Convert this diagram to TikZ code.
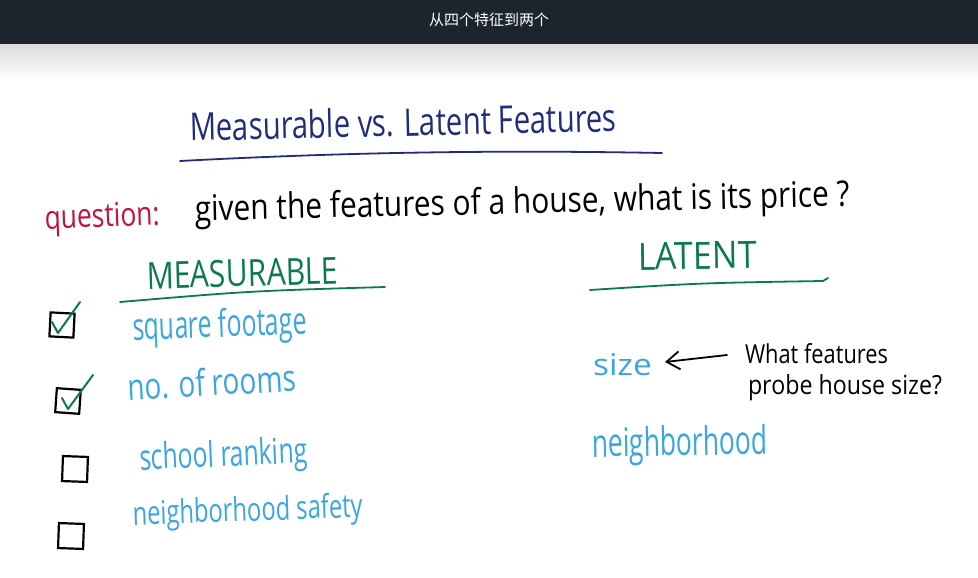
\documentclass[tikz,border=0pt]{standalone}
\usepackage{fontspec}
\setmainfont{Open Sans}
\newfontfamily\cjk{Noto Sans CJK SC}
\usetikzlibrary{arrows.meta}
\definecolor{barbg}{HTML}{1C252E}
\definecolor{navy}{HTML}{1F2D7B}
\definecolor{crim}{HTML}{C4123A}
\definecolor{grn}{HTML}{0B7A50}
\definecolor{blu}{HTML}{3AA5E0}
\newcommand\hw[3]{\resizebox{#1pt}{#2pt}{#3}}
\begin{document}
\begin{tikzpicture}[x=1pt,y=-1pt,
  hand/.style={anchor=base west,inner sep=0pt,outer sep=0pt},
  feat/.style={hand,text=blu},
  box/.style={draw=black,line width=2.2pt,minimum width=#1,minimum height=#1,inner sep=0pt},
  tick/.style={draw=grn,line width=2pt,line cap=round,line join=round},
  uline/.style={line width=1.8pt,line cap=round}]
\useasboundingbox (0,0) rectangle (978,578);
% top bar and shadow
\shade[top color=black!14,bottom color=white] (0,44) rectangle (978,80);
\fill[barbg] (0,0) rectangle (978,44);
\node[text=white,font=\cjk\fontsize{15}{18}\selectfont] (bar) at (489,20) {从四个特征到两个};
% title
\node[hand,text=navy,rotate=1.3] (title) at (190,141) {\hw{427}{29}{Measurable vs. Latent Features}};
\draw[navy,uline] (180,161) .. controls (350,152) and (500,150) .. (662,153);
% question
\node[hand,text=crim,rotate=2] (q) at (45,229) {\hw{115}{24}{question:}};
\node[hand,text=black,rotate=1.3] (qt) at (195,221) {\hw{655}{27}{given the features of a house, what is its price ?}};
% headers
\node[hand,text=grn,rotate=1.5] (meas) at (147,289) {\hw{191}{27}{MEASURABLE}};
\draw[grn,uline] (120,302) .. controls (250,291) .. (385,287);
\node[hand,text=grn,rotate=0.8] (lat) at (638,270) {\hw{119}{27}{LATENT}};
\draw[grn,uline] (590,290) .. controls (700,283) .. (823,281) -- (828,278);
% checkboxes
\node[box=24pt,rotate=-3] (cb1) at (62,325) {};
\node[box=24pt,rotate=-4] (cb2) at (68,401) {};
\node[box=25pt,rotate=-2] (cb3) at (75,469) {};
\node[box=25pt,rotate=-2] (cb4) at (71,536) {};
\draw[tick] (52,322) -- (58,333) -- (80,302);
\draw[tick] (62,398) -- (68,409) -- (93,375);
% measurable features
\node[feat,rotate=2] (f1) at (133,340) {\hw{174}{29}{square footage}};
\node[feat,rotate=3] (f2) at (128,400) {\hw{169}{28}{no. of rooms}};
\node[feat,rotate=2.5] (f3) at (140,470) {\hw{168}{27}{school ranking}};
\node[feat,rotate=2] (f4) at (133,525) {\hw{230}{25}{neighborhood safety}};
% latent features
\node[feat] (l1) at (593,375) {\hw{59}{22}{size}};
\node[feat,rotate=1] (l2) at (592,457) {\hw{176}{30}{neighborhood}};
\node[hand,text=black] (w1) at (745,363) {\hw{143}{20}{What features}};
\node[hand,text=black] (w2) at (748,394) {\hw{194}{20}{probe house size?}};
\coordinate (atail) at (727,355);
\coordinate (atip) at (665,362);
\draw[line width=1.8pt,line cap=round,-{Straight Barb[length=13pt,width=18pt,line width=1.8pt]}] (atail) -- (atip);
\end{tikzpicture}
\end{document}
